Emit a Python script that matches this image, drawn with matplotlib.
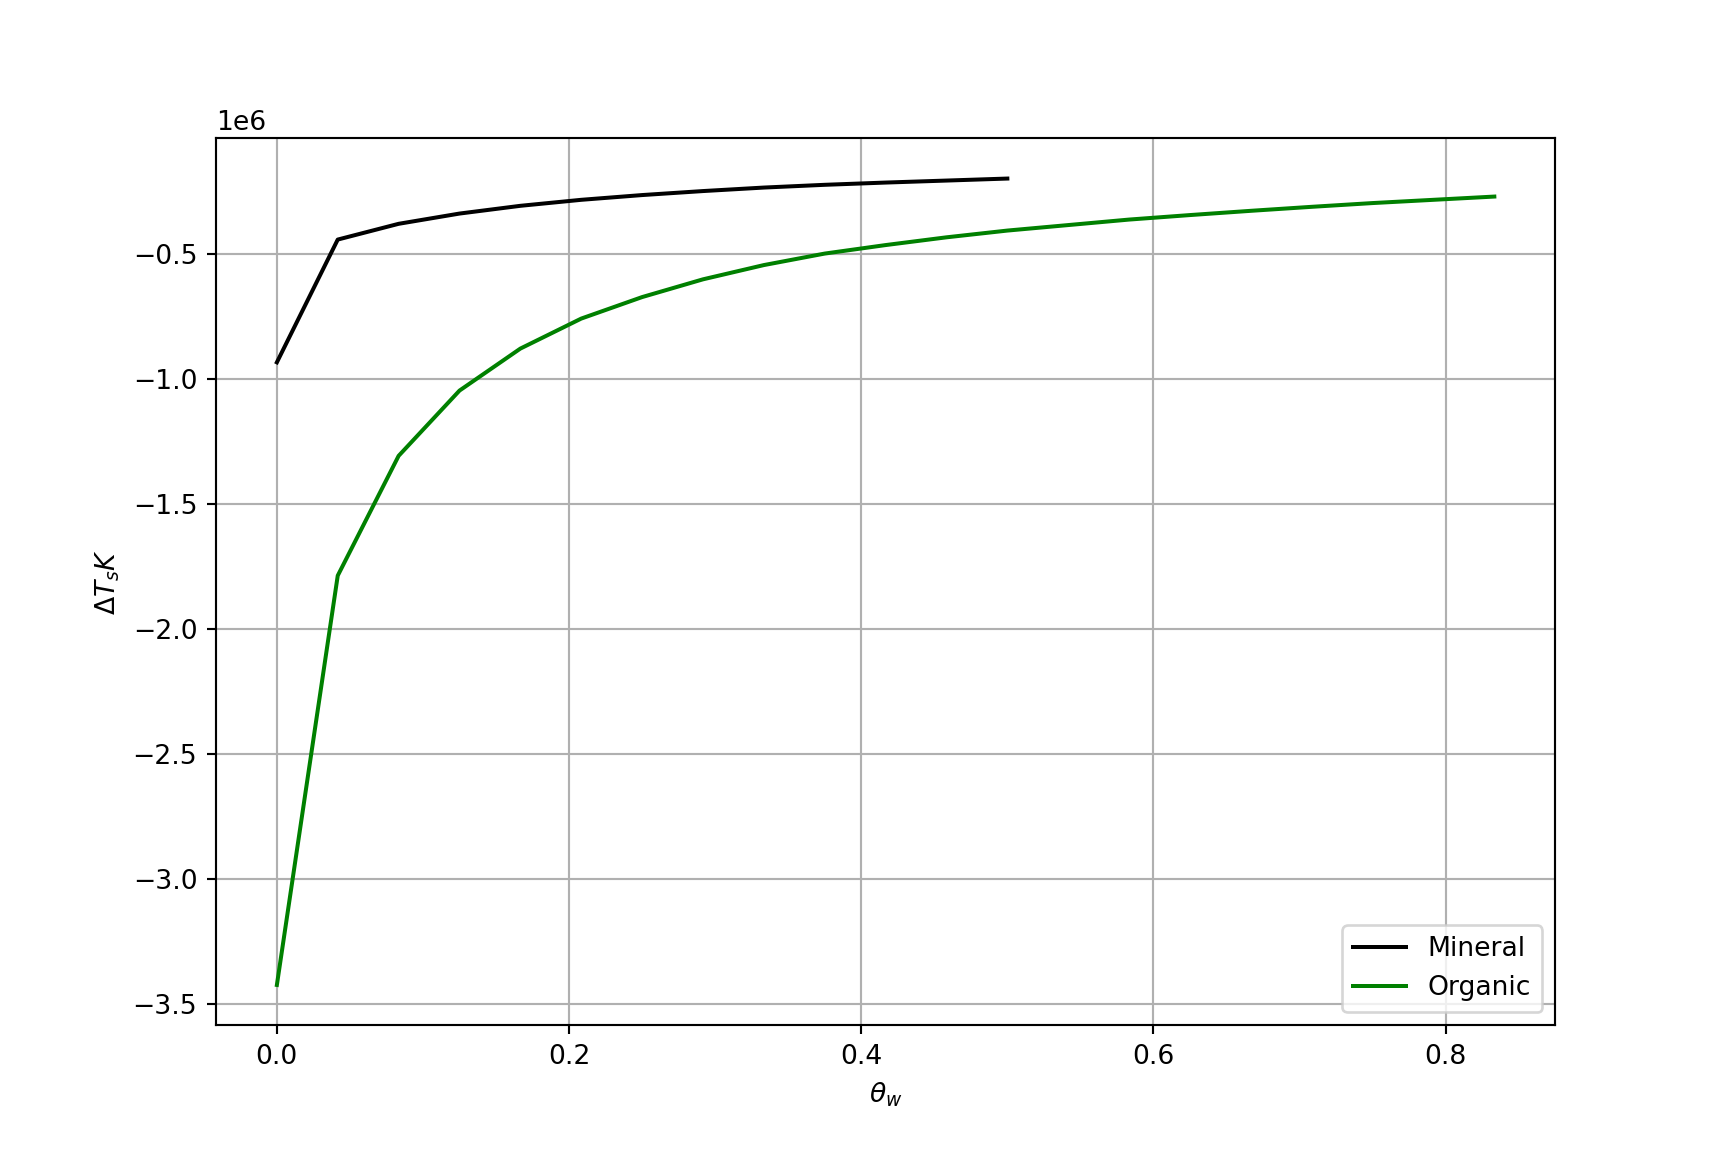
import numpy as np
import matplotlib
matplotlib.use("Agg")
import matplotlib.pyplot as plt


# Water content steps (1/24 increments)
theta_mineral = np.arange(13) / 24
theta_organic = np.arange(21) / 24

# Delta T_s K values
dts_mineral = [
    -0.935e6, -0.444e6, -0.381e6, -0.340e6, -0.309e6, -0.285e6, -0.266e6,
    -0.250e6, -0.236e6, -0.225e6, -0.216e6, -0.208e6, -0.200e6,
]
dts_organic = [
    -3.425e6, -1.788e6, -1.309e6, -1.048e6, -0.880e6, -0.760e6, -0.674e6,
    -0.603e6, -0.546e6, -0.500e6, -0.466e6, -0.435e6, -0.408e6, -0.386e6,
    -0.364e6, -0.346e6, -0.329e6, -0.313e6, -0.298e6, -0.285e6, -0.272e6,
]


def graph():
    fig, ax = plt.subplots(figsize=(9, 6), dpi=192)
    ax.plot(theta_mineral, dts_mineral, color="black", label="Mineral")
    ax.plot(theta_organic, dts_organic, color="green", label="Organic")
    ax.set_xlabel(r"$\theta_w$")
    ax.set_ylabel(r"$\Delta T_s K$")
    ax.grid(True)
    ax.legend(loc="lower right")
    fig.savefig("out.png", dpi=192)


def main():
    graph()


if __name__ == "__main__":
    main()
